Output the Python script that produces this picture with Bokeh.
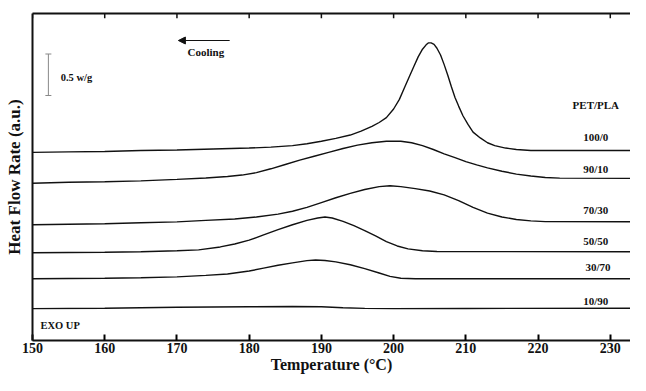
from bokeh.plotting import figure
from bokeh.models import Range1d, LinearAxis, FixedTicker, Arrow, NormalHead, TeeHead
from bokeh.core.properties import value
from bokeh.embed import file_html
from bokeh.resources import INLINE

# ---- data (temperature in degC, heat flow in arbitrary units, curves offset) ----
t_100_0 = [150, 155, 160, 165, 170, 175, 180, 183, 186, 188, 190, 192, 194, 195.5, 197, 198,
           199, 200, 200.8, 201.5, 202.2, 202.8, 203.4, 204.0, 204.5, 204.8, 205.2, 205.6,
           206.0, 206.5, 207.0, 207.5, 208.0, 208.5, 209.0, 209.6, 210.3, 211.0, 212.0, 213.0,
           214.0, 215.5, 217.0, 219.0, 235]
hf_100_0 = [195, 195.5, 196, 197, 197.5, 198.5, 199.5, 200.5, 202, 204, 206.5, 209.5, 213, 217,
            222, 226, 231, 240, 250, 262, 274, 284, 294, 302, 306.5, 308.5, 308.5, 307,
            303, 296, 286, 275, 263, 252, 243, 233, 224, 216, 210, 205,
            202, 199.5, 198, 197, 197]

t_90_10 = [150, 155, 160, 165, 170, 174, 177, 179, 181, 183, 185, 187, 189, 191, 193, 195,
           197, 199, 201, 202.5, 204, 205.5, 207, 208.5, 210, 211.5, 213, 215, 217,
           219, 221, 223, 235]
hf_90_10 = [163, 164, 164.5, 165.5, 167, 168.5, 170, 171.5, 174, 178, 182.5, 187, 191, 195, 199, 202.5,
            205, 206.5, 206.5, 205, 202, 198, 193.5, 189.5, 185.5, 182, 179, 175.5, 172.5,
            170.5, 169, 168.3, 168]

t_70_30 = [150, 155, 160, 165, 170, 174, 178, 181, 184, 186, 188, 190, 192, 194, 196, 198,
           199.5, 201, 203, 205, 207, 209, 211, 213, 215, 217, 219, 221, 235]
hf_70_30 = [120, 120.5, 121, 122, 123, 124.5, 126, 128, 131, 134, 138, 143, 148, 152.5, 156.5, 159.5,
            160.5, 159.5, 157.5, 155, 151, 145, 138, 132, 128, 125.5, 124, 123.2, 123]

t_50_50 = [150, 155, 160, 165, 170, 173, 176, 178, 180, 182, 184, 186, 188, 189.5, 190.5, 191.5,
           193, 194.5, 196, 197.5, 199, 200.5, 202, 204, 206, 235]
hf_50_50 = [91, 91.3, 91.5, 92, 93, 94, 97, 100, 104, 109.5, 115, 120, 124.5, 127, 128, 127,
            123.5, 119, 114, 108.5, 102.5, 98, 95, 93, 92.2, 92]

t_30_70 = [150, 155, 160, 165, 170, 174, 177, 180, 182, 184, 186, 188, 189.2, 190.5, 192, 194,
           196, 198, 199.5, 201, 203, 235]
hf_30_70 = [64, 64.3, 64.5, 65, 66, 67.5, 69, 72, 75, 78, 80.5, 82.8, 83.5, 83, 81.5, 78.5,
            74.5, 70, 66.5, 64.5, 64, 64]

t_10_90 = [150, 160, 170, 180, 186, 190, 193, 196, 200, 210, 235]
hf_10_90 = [33, 33.5, 34.5, 35, 35.3, 35, 34, 33.3, 33, 33.2, 33.5]

series_t = [t_100_0, t_90_10, t_70_30, t_50_50, t_30_70, t_10_90]
series_hf = [hf_100_0, hf_90_10, hf_70_30, hf_50_50, hf_30_70, hf_10_90]

label_texts = ["PET/PLA", "100/0", "90/10", "70/30", "50/50", "30/70", "10/90"]
label_x = [228.0, 228.0, 228.0, 228.0, 228.0, 228.3, 228.0]
label_y = [244, 211, 178, 135, 103, 76, 41]

x_ticks = [150, 160, 170, 180, 190, 200, 210, 220, 230]
top_tick_y0 = [339] * len(x_ticks)
top_tick_y1 = [334] * len(x_ticks)

FONT = "Liberation Serif"
INK = "#111111"

p = figure(width=630, height=375, output_backend="svg", toolbar_location=None,
           x_range=Range1d(150, 232.8), y_range=Range1d(0, 339),
           min_border_left=32, min_border_right=0, min_border_top=13, min_border_bottom=30,
           x_axis_location=None, y_axis_location=None)
p.outline_line_color = None
p.xgrid.visible = False
p.ygrid.visible = False
p.background_fill_color = "white"
p.border_fill_color = "white"

# bottom axis
xb = LinearAxis(ticker=FixedTicker(ticks=x_ticks))
xb.axis_label = "Temperature (°C)"
xb.axis_label_text_font = FONT
xb.axis_label_text_font_style = "bold"
xb.axis_label_text_font_size = "16px"
xb.axis_label_text_color = INK
xb.axis_label_standoff = 0
xb.major_label_text_font = FONT
xb.major_label_text_font_style = "bold"
xb.major_label_text_font_size = "14px"
xb.major_label_text_color = INK
xb.major_label_standoff = 2
xb.major_tick_in = 6
xb.major_tick_out = 0
xb.major_tick_line_width = 2
xb.minor_tick_line_color = None
xb.axis_line_width = 2
xb.axis_line_color = INK
p.add_layout(xb, "below")

# top border with inward ticks
xt = LinearAxis(ticker=FixedTicker(ticks=[]))
xt.major_label_standoff = 0
xt.major_tick_in = 0
xt.major_tick_out = 0
xt.minor_tick_line_color = None
xt.axis_line_width = 2
xt.axis_line_color = INK
p.add_layout(xt, "above")
p.segment(x0=x_ticks, y0=top_tick_y0, x1=x_ticks, y1=top_tick_y1,
          line_color=INK, line_width=1.5)

# left axis (no ticks)
yl = LinearAxis(ticker=FixedTicker(ticks=[]))
yl.axis_label = "Heat Flow Rate (a.u.)"
yl.axis_label_text_font = FONT
yl.axis_label_text_font_style = "bold"
yl.axis_label_text_font_size = "17px"
yl.axis_label_text_color = INK
yl.axis_label_standoff = 9
yl.major_label_standoff = 0
yl.major_tick_in = 0
yl.major_tick_out = 0
yl.minor_tick_line_color = None
yl.axis_line_width = 2
yl.axis_line_color = INK
p.add_layout(yl, "left")

# curves
for ts, hs in zip(series_t, series_hf):
    p.line(ts, hs, line_color=INK, line_width=1.4)

# composition labels
p.text(x=label_x, y=label_y, text=label_texts, text_font=value(FONT),
       text_font_style="bold", text_font_size="11px", text_color=INK,
       text_align="center", text_baseline="middle")

# EXO UP
p.text(x=[151.1], y=[16], text=["EXO UP"], text_font=value(FONT),
       text_font_style="bold", text_font_size="10.5px", text_color=INK,
       text_align="left", text_baseline="middle")

# Cooling arrow and label
p.add_layout(Arrow(end=NormalHead(size=7, fill_color=INK, line_color=INK),
                   x_start=177.3, y_start=311, x_end=170.2, y_end=311,
                   line_color=INK, line_width=1.2))
p.text(x=[174.0], y=[299], text=["Cooling"], text_font=value(FONT),
       text_font_style="bold", text_font_size="11px", text_color=INK,
       text_align="center", text_baseline="middle")

# 0.5 w/g scale bar
p.add_layout(Arrow(start=TeeHead(size=6, line_color="#888888", line_width=1),
                   end=TeeHead(size=6, line_color="#888888", line_width=1),
                   x_start=152.2, y_start=254, x_end=152.2, y_end=297,
                   line_color="#888888", line_width=1))
p.text(x=[153.9], y=[273], text=["0.5 w/g"], text_font=value(FONT),
       text_font_style="bold", text_font_size="10.5px", text_color=INK,
       text_align="left", text_baseline="middle")

open("out.html", "w").write(file_html(p, INLINE))
